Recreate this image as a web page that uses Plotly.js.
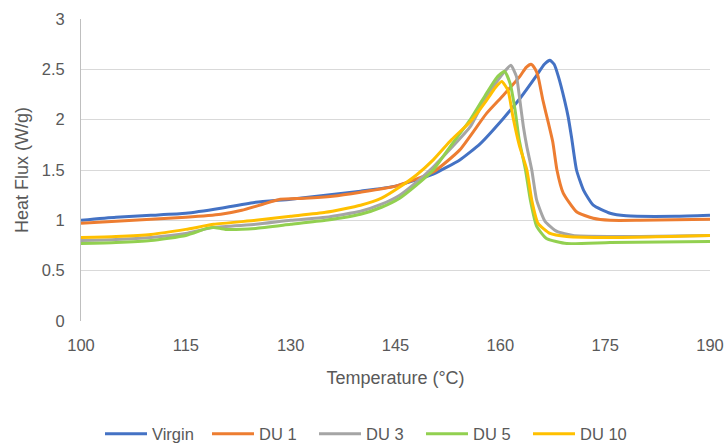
<!DOCTYPE html>
<html>
<head>
<meta charset="utf-8">
<script src="https://cdn.plot.ly/plotly-3.0.1.min.js"></script>
<style>html,body{margin:0;padding:0;background:#fff;}#chart{width:728px;height:444px;}</style>
</head>
<body>
<div id="chart"></div>
<script>
const seriesNames = ["Virgin", "DU 1", "DU 3", "DU 5", "DU 10"];
const seriesColors = ["#4472C4", "#ED7D31", "#A5A5A5", "#92D050", "#FFC000"];

const virginT = [100,105,110,115,120,125,130,135,140,145,150.4,154.2,157.1,160.4,162.8,165.2,166.3,167.1,167.7,168.3,169.2,169.7,170.2,170.9,171.9,173.3,175.7,178,185,190];
const virginQ = [1.00,1.03,1.05,1.07,1.12,1.18,1.21,1.25,1.29,1.34,1.46,1.60,1.76,2.01,2.21,2.44,2.55,2.59,2.55,2.43,2.19,2.03,1.82,1.50,1.30,1.15,1.07,1.045,1.04,1.05];

const du1T = [100,105,110,115,120,123,126,128.5,132,136,140,145,150.4,154.2,158.0,160.4,162.8,163.7,164.4,165.0,165.4,166.1,166.9,167.5,168.1,169.0,170.9,173.3,175.7,180,190];
const du1Q = [0.97,0.99,1.01,1.03,1.06,1.10,1.16,1.21,1.22,1.24,1.28,1.34,1.48,1.70,2.06,2.24,2.43,2.52,2.55,2.50,2.43,2.19,1.96,1.78,1.50,1.27,1.085,1.02,1.00,1.00,1.01];

const du3T = [100,105,110,115,119,125,130,135,140,143,145.6,148,150.4,153,155.7,158.0,160.4,161.5,162.3,162.8,163.3,163.8,164.5,165.2,166.4,168.1,170.4,175.7,180,190];
const du3Q = [0.80,0.81,0.83,0.87,0.93,0.96,1.00,1.03,1.09,1.16,1.25,1.38,1.53,1.72,1.93,2.23,2.46,2.54,2.43,2.19,1.93,1.73,1.50,1.20,0.99,0.89,0.85,0.84,0.84,0.85];

const du5T = [100,105,110,115,118,119,120.7,125,130,135,140,143,145.6,148,150.4,153,155.7,158.0,159.5,160.6,161.4,162.1,162.7,163.6,164.3,165.2,166.6,169.5,175.7,190];
const du5Q = [0.77,0.78,0.80,0.85,0.92,0.93,0.91,0.92,0.96,1.00,1.06,1.13,1.22,1.35,1.50,1.75,2.00,2.26,2.42,2.48,2.36,2.10,1.80,1.50,1.20,0.94,0.82,0.77,0.78,0.79];

const du10T = [100,105,110,115,119,125,130,135,140,143,145.6,148,150.4,153,155.7,158.0,159.3,160.2,161.1,161.8,162.7,163.8,164.5,165.4,167.1,169.5,175.7,190];
const du10Q = [0.83,0.84,0.86,0.91,0.96,1.00,1.04,1.08,1.15,1.22,1.33,1.45,1.60,1.80,1.98,2.19,2.32,2.38,2.29,2.03,1.75,1.50,1.20,0.97,0.87,0.84,0.83,0.85];

const xTicks = [100,115,130,145,160,175,190];
const yTicks = [0,0.5,1,1.5,2,2.5,3];
const yTickText = ["0","0.5","1","1.5","2","2.5","3"];

const xs = [virginT, du1T, du3T, du5T, du10T];
const ys = [virginQ, du1Q, du3Q, du5Q, du10Q];

const FONT = "Liberation Sans, Arial, sans-serif";
const traces = seriesNames.map((n, i) => ({
  type: "scatter", mode: "lines", name: n, x: xs[i], y: ys[i],
  line: {color: seriesColors[i], width: 3, shape: "spline", smoothing: 0.5}
}));

const layout = {
  width: 728, height: 444,
  margin: {l: 81, r: 18, t: 19, b: 123},
  paper_bgcolor: "#fff", plot_bgcolor: "#fff",
  font: {family: FONT, color: "#595959", size: 16.5},
  showlegend: true,
  legend: {orientation: "h", xref: "container", yref: "container",
           x: 100/728, xanchor: "left", y: 10/444, yanchor: "middle",
           font: {size: 16.5, color: "#595959"}, itemwidth: 42, entrywidth: 50,
           traceorder: "normal", bgcolor: "rgba(0,0,0,0)"},
  xaxis: {range: [100, 190], tickvals: xTicks, ticktext: xTicks.map(String),
          showgrid: false, zeroline: false, showline: false,
          ticks: "outside", ticklen: 9, tickcolor: "rgba(0,0,0,0)",
          title: {text: "Temperature (°C)", font: {size: 18, color: "#595959"}, standoff: 18}},
  yaxis: {range: [0, 3], tickvals: yTicks, ticktext: yTickText,
          showgrid: true, gridcolor: "#D9D9D9", gridwidth: 1, zeroline: false,
          showline: true, linecolor: "#BFBFBF", linewidth: 1,
          ticks: "outside", ticklen: 12, tickcolor: "rgba(0,0,0,0)",
          title: {text: "Heat Flux (W/g)", font: {size: 18, color: "#595959"}, standoff: 8}}
};

Plotly.newPlot("chart", traces, layout, {displayModeBar: false, staticPlot: true});
</script>
</body>
</html>
